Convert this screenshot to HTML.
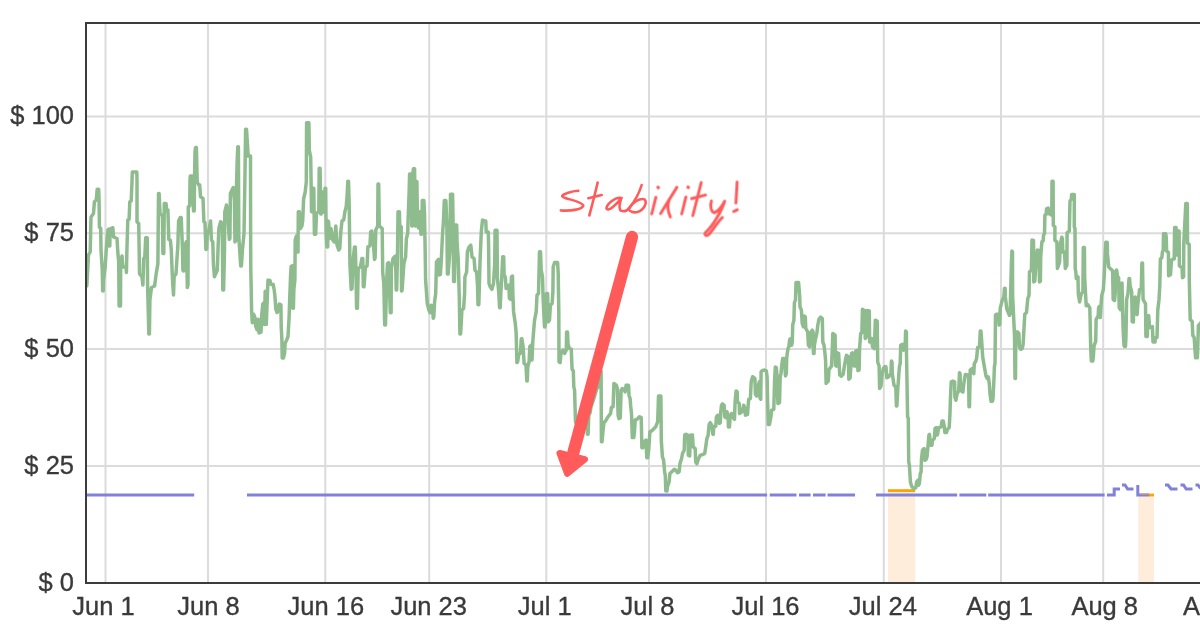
<!DOCTYPE html>
<html><head><meta charset="utf-8"><title>chart</title>
<style>
html,body{margin:0;padding:0;background:#fff;}
body{width:1200px;height:628px;overflow:hidden;font-family:"Liberation Sans",sans-serif;}
svg{display:block;}
text{font-family:"Liberation Sans",sans-serif;font-size:25.5px;fill:#3a3a3a;stroke:#3a3a3a;stroke-width:0.35px;}
</style></head><body>
<svg width="1200" height="628" viewBox="0 0 1200 628">
<rect x="0" y="0" width="1200" height="628" fill="#ffffff"/>
<g fill="#ffeddb">
<rect x="888" y="492" width="27.2" height="91"/>
<rect x="1138.3" y="496" width="15.7" height="87"/>
</g>
<g stroke="#dbdbdb" stroke-width="2" fill="none">
<line x1="105.5" y1="23" x2="105.5" y2="583"/>
<line x1="208" y1="23" x2="208" y2="583"/>
<line x1="325.3" y1="23" x2="325.3" y2="583"/>
<line x1="429.2" y1="23" x2="429.2" y2="583"/>
<line x1="546.3" y1="23" x2="546.3" y2="583"/>
<line x1="649" y1="23" x2="649" y2="583"/>
<line x1="766" y1="23" x2="766" y2="583"/>
<line x1="883.8" y1="23" x2="883.8" y2="583"/>
<line x1="1001" y1="23" x2="1001" y2="583"/>
<line x1="1103.2" y1="23" x2="1103.2" y2="583"/>
<line x1="86" y1="116.4" x2="1200" y2="116.4"/>
<line x1="86" y1="233.2" x2="1200" y2="233.2"/>
<line x1="86" y1="348.9" x2="1200" y2="348.9"/>
<line x1="86" y1="466" x2="1200" y2="466"/>
</g>
<g fill="none" stroke="#ffa300" stroke-width="2.8">
<path d="M888,490.6H915.2"/>
<path d="M1149,495H1154"/>
</g>
<polyline id="green" fill="none" stroke="#8fbc8f" stroke-width="3.5" stroke-linejoin="round" stroke-linecap="round" points="86.8,286.0 88.5,255.0 90.2,252.0 90.7,230.0 91.0,217.0 93.5,213.5 94.4,201.7 96.3,200.0 97.2,189.2 98.7,189.2 99.1,201.7 99.4,227.0 100.7,228.5 101.0,250.0 102.2,268.6 102.7,291.0 103.2,291.0 103.5,280.0 105.2,267.0 106.1,252.0 107.2,237.0 108.0,230.0 108.9,229.0 109.2,246.0 109.8,246.0 110.1,229.0 111.0,228.5 112.8,227.7 113.6,237.0 117.0,238.5 117.8,252.0 118.7,262.0 119.1,306.0 120.5,306.0 120.7,262.0 122.0,256.0 122.8,267.0 126.1,267.0 126.4,272.5 127.0,247.0 127.8,220.0 129.1,219.3 129.8,201.7 131.2,201.0 132.0,181.7 132.3,172.0 136.8,172.0 137.0,180.0 137.0,221.8 138.7,223.5 139.2,252.0 139.5,273.6 142.0,277.0 142.9,285.0 143.7,258.6 144.8,257.0 145.7,237.7 147.2,237.7 147.6,285.0 148.5,320.0 148.8,334.0 149.4,334.0 149.9,300.0 150.5,295.0 151.5,287.5 154.6,286.0 156.2,273.6 157.9,263.6 158.5,193.4 159.1,193.4 160.1,214.3 162.4,215.1 162.9,253.6 163.8,253.6 164.3,203.4 166.0,203.4 166.8,211.0 167.9,210.0 168.8,239.4 170.4,240.2 171.3,250.2 172.1,270.3 172.8,285.0 173.5,295.0 174.2,276.0 176.0,274.0 177.2,255.0 177.8,247.0 178.6,221.0 180.2,217.6 181.2,217.6 182.4,247.0 182.9,270.3 183.6,271.0 184.4,247.0 186.3,241.9 187.0,270.0 187.3,287.5 188.0,285.0 188.3,206.8 189.7,206.0 190.0,180.0 190.3,176.0 192.3,176.0 193.0,195.0 193.5,211.0 194.2,211.0 194.6,175.0 195.0,152.0 195.5,147.6 196.4,147.6 197.2,182.0 198.9,185.2 199.7,185.0 200.5,196.7 203.0,198.4 203.9,221.8 205.0,222.6 205.9,249.4 206.7,249.0 207.2,235.0 208.9,230.0 210.6,221.0 211.4,240.0 212.8,241.9 213.4,263.6 214.4,276.7 217.3,270.3 218.1,246.9 218.9,228.5 220.6,221.8 222.3,223.5 222.8,290.0 223.6,290.0 224.5,250.0 224.8,211.8 226.5,205.0 227.8,215.0 229.3,239.4 229.9,238.5 230.4,193.4 233.2,187.5 234.4,200.0 235.0,241.9 235.6,241.0 236.1,200.0 237.2,160.0 237.8,146.8 238.4,146.8 238.8,236.9 240.0,255.0 240.7,266.0 241.4,266.0 242.4,250.2 244.0,233.5 244.9,180.0 245.6,129.2 246.5,129.2 247.2,140.0 248.2,156.0 250.5,156.0 250.6,230.0 250.8,269.9 251.1,283.6 251.6,310.8 252.3,322.7 253.6,314.2 255.0,317.6 255.7,326.1 257.0,329.6 258.2,319.3 259.0,333.0 261.0,332.1 261.8,314.2 262.8,304.0 263.6,303.1 264.4,324.4 265.2,291.2 265.9,291.2 266.3,324.4 267.2,300.0 268.0,280.1 270.0,280.5 271.0,284.4 273.2,284.4 274.1,289.5 274.9,295.5 275.8,309.1 277.1,312.5 278.3,310.8 279.2,304.0 280.9,304.8 281.2,326.1 281.9,340.0 282.2,358.0 283.4,358.0 284.6,353.4 285.1,343.2 286.8,339.8 288.0,336.4 289.1,317.6 289.7,298.9 290.6,275.0 291.1,266.5 292.4,265.7 292.8,308.3 293.4,308.3 293.9,288.7 294.9,280.1 295.2,240.0 296.4,236.0 297.0,251.9 298.0,252.0 298.3,211.7 299.4,211.7 300.4,228.5 301.9,226.0 302.7,221.0 303.6,199.0 305.2,192.0 306.3,182.0 306.6,122.7 308.9,122.7 309.3,150.0 310.7,157.3 311.2,190.0 311.5,211.7 312.4,211.7 312.9,188.2 313.8,188.2 314.4,234.3 315.7,234.3 316.5,213.0 318.8,212.0 319.2,168.2 320.1,168.2 320.7,214.0 321.3,214.0 321.8,192.0 322.9,192.0 323.3,212.0 324.6,212.0 325.0,188.2 325.7,188.2 326.1,230.0 326.9,246.9 327.7,246.9 328.0,221.0 328.6,222.0 329.6,238.5 331.0,228.5 332.8,240.0 334.5,242.0 335.8,226.0 337.0,245.0 338.7,250.0 339.8,248.5 340.8,231.8 342.0,221.0 343.7,220.0 344.9,211.7 346.2,206.7 347.1,196.0 347.8,181.2 348.5,181.2 349.2,205.0 349.9,263.6 351.2,289.3 352.0,288.7 352.9,261.9 354.5,246.9 355.3,246.9 355.9,268.6 356.6,308.2 357.4,308.2 358.2,268.6 360.4,266.9 361.9,258.6 362.8,258.6 363.3,286.8 364.0,286.8 365.4,267.0 367.1,266.0 367.9,246.9 369.9,246.0 370.7,231.8 371.8,231.0 373.5,245.0 374.5,259.4 375.1,258.0 375.8,230.0 377.7,226.0 378.0,184.0 378.7,184.0 379.3,226.0 382.2,228.5 382.7,272.0 383.8,283.6 384.7,325.0 385.5,325.0 386.6,283.0 387.5,263.6 388.5,262.7 389.4,283.6 390.3,312.7 391.1,312.7 391.3,268.6 393.0,258.6 394.4,256.9 395.5,256.0 396.2,290.0 396.7,290.0 397.5,253.5 398.0,211.7 399.4,211.7 399.7,225.0 401.2,226.8 401.5,291.0 402.0,291.0 403.0,277.0 403.9,263.6 405.6,256.9 406.4,238.5 407.7,233.5 408.1,220.0 409.2,190.0 409.6,174.0 411.3,174.0 411.8,226.0 412.4,226.0 412.8,174.0 413.4,168.7 414.6,168.7 415.0,200.0 415.4,226.0 415.9,226.0 416.2,181.5 416.9,181.5 417.3,210.0 418.6,228.0 420.1,211.7 420.9,234.3 421.8,234.0 422.3,200.5 423.9,200.5 424.5,213.4 425.1,246.9 425.6,280.0 427.3,303.5 429.0,310.2 430.1,312.7 431.2,305.2 432.5,306.5 433.2,318.2 433.8,317.0 434.6,301.8 435.7,293.5 436.5,262.0 438.5,259.4 439.3,275.0 440.4,274.4 441.2,262.0 442.4,236.8 443.5,220.0 444.3,200.5 445.9,200.5 446.9,228.5 447.4,274.0 448.1,274.0 449.8,251.9 450.5,194.2 452.6,194.2 453.1,223.4 453.6,281.5 454.5,281.5 455.3,225.0 456.7,225.0 457.1,243.5 458.2,258.6 459.3,298.0 459.9,334.0 460.6,334.0 461.3,321.9 461.9,310.2 463.6,308.5 464.6,293.5 464.9,277.0 466.6,272.0 467.4,251.9 469.1,246.9 470.8,245.2 472.0,256.9 474.1,258.6 475.0,270.3 476.6,272.0 477.5,285.3 478.0,304.8 478.8,304.8 479.4,285.0 480.0,261.9 481.3,231.8 482.5,220.0 485.0,221.0 485.8,221.0 486.2,232.0 488.3,232.0 488.6,245.0 489.0,283.5 490.2,286.8 491.9,289.3 493.5,283.5 494.7,263.4 495.1,230.2 497.0,230.2 497.4,278.4 498.7,291.8 499.6,307.7 500.2,307.7 500.9,291.8 501.7,278.4 502.7,256.7 503.7,256.7 504.1,275.1 505.3,277.0 506.1,288.5 508.9,285.1 509.4,298.5 510.7,299.3 511.4,276.8 512.5,276.0 512.8,291.8 513.6,311.9 515.3,323.6 516.1,332.0 516.6,350.0 516.9,362.6 517.6,362.0 518.6,355.0 520.5,353.0 521.2,339.2 521.8,338.5 523.1,346.7 524.1,363.4 526.0,365.1 526.8,381.0 527.3,381.0 527.8,366.8 529.1,361.8 529.8,346.7 531.2,345.0 531.5,360.0 532.0,360.0 532.8,341.7 534.5,320.3 536.2,311.9 537.0,295.2 538.5,293.5 539.5,251.7 540.5,251.7 541.2,270.1 542.5,276.8 543.2,300.2 544.5,326.9 545.0,326.9 546.0,316.9 546.5,293.5 547.6,293.5 548.3,321.9 549.5,320.0 550.4,305.2 552.1,303.5 552.9,291.8 553.2,266.7 554.6,262.6 557.6,262.6 558.2,273.4 558.8,311.9 559.0,361.8 560.1,362.6 561.0,353.4 562.9,350.0 564.6,353.4 566.3,350.0 566.6,332.0 567.5,332.0 568.0,343.7 569.3,348.4 571.3,349.2 571.6,358.4 572.1,369.3 573.3,371.0 573.8,386.8 574.6,390.2 575.0,405.2 575.5,422.0 577.0,425.0 582.0,420.0 587.0,415.0 587.5,434.3 588.1,434.3 588.8,415.3 590.0,413.0 591.0,407.0 594.0,398.0 597.0,388.0 599.7,386.0 600.2,371.0 601.1,371.0 601.4,441.8 602.0,441.8 602.8,433.4 603.9,422.6 605.6,420.9 608.1,416.7 610.6,413.4 611.4,407.5 613.1,406.9 613.9,383.5 616.4,385.2 617.3,388.5 618.1,415.3 618.9,418.6 620.3,418.0 621.1,390.2 622.3,388.5 624.0,389.3 625.1,391.9 626.1,385.2 628.5,385.2 629.0,395.2 630.1,398.5 630.6,405.2 631.5,413.6 632.3,437.6 633.8,437.6 634.5,431.8 635.2,420.0 637.3,419.2 639.5,416.7 641.2,417.6 641.5,430.1 641.9,447.7 643.0,447.7 644.0,441.8 646.0,440.1 646.8,457.7 647.7,457.7 648.7,450.2 649.9,431.8 651.6,430.9 654.1,428.4 655.7,426.8 657.7,421.7 658.5,396.0 660.9,396.0 661.3,440.1 662.4,456.9 663.6,460.2 664.6,471.9 665.3,475.3 665.8,491.0 667.0,491.0 667.4,487.0 669.1,481.9 669.9,473.6 671.6,471.9 674.1,469.4 675.8,470.2 677.5,472.7 679.1,471.9 680.0,463.5 681.6,458.5 682.5,453.5 684.2,450.2 684.7,435.1 686.0,434.3 688.0,435.3 688.3,455.3 689.7,456.0 690.2,435.3 692.4,434.9 693.2,447.0 695.2,448.6 695.7,462.0 696.9,463.7 698.5,458.7 700.2,455.3 702.7,454.5 704.7,453.6 705.7,447.0 706.9,438.6 708.1,435.3 709.1,424.4 710.2,422.7 711.7,425.2 712.7,433.6 713.3,434.4 713.8,426.9 715.8,426.1 716.4,416.9 717.8,415.2 719.1,415.2 719.4,423.5 720.3,422.7 720.8,411.8 721.5,405.2 722.5,403.8 724.1,405.2 724.8,416.9 726.1,417.7 727.0,411.8 728.1,415.2 728.4,426.9 729.5,426.9 730.0,418.5 731.5,413.5 733.7,418.5 734.5,419.3 735.1,401.8 736.1,390.9 737.2,391.8 737.5,401.8 739.2,403.5 739.5,413.5 742.0,411.8 743.7,405.2 744.9,408.5 745.4,415.2 747.5,414.3 748.2,405.2 748.7,399.3 750.4,398.5 751.2,381.7 752.6,376.7 754.9,378.4 755.4,394.3 756.6,396.0 757.6,387.6 759.4,381.7 760.1,398.5 760.7,399.3 761.1,371.7 762.6,370.4 764.6,370.0 766.3,370.9 767.1,376.7 767.6,401.8 768.3,424.4 769.5,424.4 769.9,421.9 770.9,416.9 771.6,410.2 773.8,409.3 774.6,380.1 775.3,367.0 776.3,367.5 777.1,376.7 777.9,403.5 779.5,402.6 780.2,376.7 781.0,373.7 781.7,365.3 782.7,358.6 784.4,358.6 784.7,365.3 785.5,375.9 786.3,373.7 786.7,358.6 787.2,353.6 788.0,348.6 788.8,346.9 789.7,339.4 791.0,338.5 791.7,345.2 792.3,342.0 792.7,325.2 793.9,320.2 794.4,302.6 795.5,300.1 796.0,282.5 798.6,282.5 798.9,286.7 799.7,296.7 800.0,306.8 801.4,310.1 802.2,323.5 803.4,326.8 804.2,316.0 805.3,316.8 805.8,328.5 807.7,331.9 808.4,345.2 809.7,346.9 810.6,332.7 812.3,330.2 813.1,331.9 813.4,353.6 814.0,353.6 814.4,345.2 815.6,338.5 816.8,333.5 817.8,325.2 818.9,319.3 820.6,317.1 822.3,318.5 822.8,341.9 824.0,345.2 824.8,351.9 825.6,360.3 826.1,383.4 828.3,381.0 829.0,369.5 831.5,366.1 832.3,348.6 832.8,333.5 835.1,335.2 835.5,365.3 836.5,366.1 837.3,352.8 838.7,353.6 839.2,365.3 839.8,375.0 841.5,376.2 843.2,374.2 844.0,368.6 845.7,358.6 846.5,355.3 848.5,356.9 848.8,379.2 850.1,378.0 850.7,368.6 851.5,353.6 852.4,352.8 853.2,365.3 854.9,366.1 855.7,351.1 857.4,350.3 857.9,370.6 859.1,370.0 859.6,348.6 860.7,333.5 861.9,332.7 862.4,309.3 864.9,311.0 865.2,338.5 866.3,337.0 866.9,310.5 869.3,311.0 869.6,341.9 871.6,338.5 872.5,346.9 874.4,348.6 875.3,320.2 877.2,321.0 877.7,362.0 879.1,366.0 879.6,388.4 881.0,386.0 881.3,383.4 882.0,375.0 883.3,368.4 885.0,366.5 886.0,366.9 886.8,377.8 888.5,376.9 890.9,373.6 891.4,361.0 892.0,361.9 892.3,373.6 894.0,385.3 895.8,387.0 896.4,405.9 896.9,405.9 897.9,387.0 899.4,366.9 900.2,363.5 900.7,345.2 902.4,344.3 903.6,350.2 905.1,348.5 905.6,330.9 906.4,331.8 906.5,353.5 907.6,416.7 908.3,418.4 908.7,461.9 909.4,465.2 910.4,482.0 911.6,486.1 913.3,488.5 915.8,487.8 916.6,482.0 917.8,480.3 918.6,485.3 919.4,483.6 920.3,473.6 921.1,471.9 921.5,458.5 922.5,450.2 924.1,448.5 924.8,460.2 926.1,459.4 927.0,456.9 928.1,445.2 928.9,435.1 929.5,434.3 930.5,445.2 932.0,445.2 932.5,440.2 934.3,438.5 935.1,428.4 936.2,427.6 937.0,435.1 937.6,434.3 938.6,427.6 941.2,426.8 942.0,420.9 943.2,420.9 944.2,425.9 944.9,432.6 946.5,432.6 947.5,429.3 949.2,427.6 949.9,415.1 950.4,400.3 951.2,381.9 952.9,381.1 954.6,381.9 954.9,397.0 955.9,400.3 957.1,393.6 958.7,391.1 959.5,372.7 960.1,373.6 960.5,390.3 962.9,392.0 963.8,383.6 964.6,378.6 965.4,374.4 968.6,375.3 969.0,406.7 969.5,406.7 970.2,370.2 972.1,368.6 973.8,373.6 974.3,363.5 975.5,361.9 976.6,358.5 977.6,347.7 979.5,346.8 980.3,330.9 980.9,330.9 981.5,338.5 982.7,356.9 983.8,363.5 984.7,368.6 986.0,376.1 987.2,378.6 988.3,376.9 989.3,383.6 990.0,393.6 991.0,401.2 992.5,401.2 993.0,398.7 993.9,380.3 994.4,366.9 995.0,363.5 995.5,315.1 996.4,314.2 998.6,314.2 999.2,325.1 999.8,324.2 1000.2,308.4 1002.2,300.3 1003.8,296.9 1004.5,288.2 1005.1,288.2 1005.4,296.9 1006.7,308.6 1008.1,312.0 1009.4,315.3 1010.1,314.0 1011.4,263.5 1011.9,251.0 1012.5,251.5 1012.6,295.3 1014.5,335.1 1015.0,378.6 1015.5,378.6 1015.8,333.4 1017.3,331.8 1018.9,333.4 1019.4,346.8 1020.6,349.3 1022.3,348.5 1023.1,344.3 1024.0,328.4 1024.8,314.2 1026.5,312.5 1027.8,298.6 1029.0,295.3 1029.5,271.9 1031.4,270.2 1032.0,240.1 1033.5,240.5 1033.8,281.9 1034.8,281.1 1035.3,273.5 1037.3,250.1 1039.0,250.5 1039.5,281.9 1040.4,281.1 1040.7,256.8 1041.9,241.8 1043.2,240.9 1043.5,235.1 1044.5,233.6 1044.9,215.2 1046.2,214.3 1046.5,208.8 1048.2,208.1 1048.7,213.5 1051.8,215.2 1052.0,181.2 1053.1,181.2 1053.3,225.2 1054.9,226.9 1054.9,240.3 1056.9,241.9 1057.4,268.5 1058.6,265.2 1059.6,261.8 1060.2,245.1 1061.8,237.2 1062.4,238.6 1062.8,252.0 1064.6,252.0 1065.3,268.5 1066.9,265.2 1067.1,232.7 1067.9,231.9 1069.3,231.1 1070.0,201.0 1071.3,199.3 1071.6,194.6 1074.3,194.6 1074.3,226.9 1075.0,228.5 1075.2,268.5 1075.8,271.9 1076.3,278.5 1078.0,276.9 1078.3,293.6 1079.6,302.0 1081.3,293.6 1082.9,291.7 1083.3,247.4 1084.4,247.4 1084.7,277.8 1086.2,305.7 1087.8,304.7 1089.8,307.7 1090.1,319.6 1090.7,347.5 1091.3,361.0 1092.8,361.0 1093.3,357.4 1094.1,345.5 1095.7,341.5 1096.1,319.6 1098.2,315.6 1098.6,307.7 1099.2,306.7 1100.2,317.6 1101.7,295.7 1103.3,289.8 1104.1,277.8 1105.3,252.2 1105.8,242.2 1107.2,242.2 1107.5,253.9 1108.7,266.9 1110.7,268.9 1112.6,270.8 1113.2,299.7 1114.6,300.5 1115.2,293.7 1115.6,271.8 1116.6,270.0 1117.6,276.8 1118.6,277.8 1119.2,307.7 1120.6,309.7 1121.2,283.8 1122.0,283.0 1122.6,309.7 1123.2,331.5 1124.0,345.5 1124.6,346.5 1125.5,346.5 1126.0,335.5 1126.6,299.7 1128.0,293.7 1129.0,278.5 1129.6,278.5 1130.1,285.8 1131.7,292.0 1132.2,321.6 1133.4,322.0 1133.9,297.7 1135.3,297.0 1135.7,313.6 1137.1,314.6 1137.7,305.7 1139.5,289.8 1141.3,288.0 1141.9,263.0 1142.5,263.0 1143.1,299.7 1145.5,303.7 1145.9,336.5 1147.3,336.5 1148.0,316.6 1148.7,315.6 1149.6,327.6 1152.4,326.6 1153.0,342.0 1155.0,342.0 1155.4,337.5 1157.0,337.5 1157.8,309.7 1159.0,299.7 1159.8,285.8 1160.4,258.9 1161.8,257.9 1162.4,252.0 1163.2,250.5 1163.5,233.8 1165.8,233.8 1166.3,238.1 1166.6,251.1 1168.4,252.5 1168.6,275.8 1170.5,274.8 1171.5,259.9 1174.2,258.9 1174.6,227.6 1176.1,227.6 1176.4,255.0 1177.9,255.0 1178.1,231.1 1179.1,231.1 1179.4,265.9 1182.1,267.9 1182.5,277.8 1183.6,276.8 1183.8,243.2 1185.8,203.5 1187.3,203.5 1187.5,243.2 1189.2,244.2 1189.3,279.8 1189.7,297.7 1190.2,319.6 1192.2,321.6 1192.8,335.5 1194.2,337.5 1194.8,347.5 1195.6,357.8 1197.3,357.8 1197.6,353.4 1198.4,325.6 1200.5,323.0"/>
<g fill="none" stroke="#8181dc" stroke-width="3">
<path d="M87,495H194.2 M247,495H767.1 M769.7,495H796.5 M799,495H810.6 M813,495H825.6 M827.5,495H855 M876,495H957.2 M959.4,495H986.3 M988.2,495H1104.6 M1107,495H1114.2V489H1120 M1122,485H1125L1127.6,489H1133.5 M1137.8,485V495H1149.2 M1165,485H1168L1171,489H1177.5 M1180.5,485H1183.5L1186.2,489H1192.5 M1195.5,485H1198L1200.5,488.5"/>
</g>
<path d="M1140,494.1H1149" fill="none" stroke="#e09a40" stroke-width="1.4" opacity="0.75"/>
<path d="M86,584V23H1201 M85,583H1201" fill="none" stroke="#3c3c3c" stroke-width="2"/>
<defs><filter id="gs" x="0" y="0" width="1200" height="628" filterUnits="userSpaceOnUse"><feColorMatrix type="saturate" values="0"/></filter></defs>
<g filter="url(#gs)" style="will-change:transform">
<g text-anchor="end">
<text x="74" y="124.0">$ 100</text>
<text x="74" y="240.8">$ 75</text>
<text x="74" y="356.5">$ 50</text>
<text x="74" y="473.6">$ 25</text>
<text x="74" y="590.6">$ 0</text>
</g>
<g text-anchor="middle">
<text x="103.5" y="615">Jun 1</text>
<text x="208.5" y="615">Jun 8</text>
<text x="325.8" y="615">Jun 16</text>
<text x="428.7" y="615">Jun 23</text>
<text x="544.8" y="615">Jul 1</text>
<text x="647.5" y="615">Jul 8</text>
<text x="765.5" y="615">Jul 16</text>
<text x="882.8" y="615">Jul 24</text>
<text x="999.5" y="615">Aug 1</text>
<text x="1104.7" y="615">Aug 8</text>
<text x="1223.3" y="615">Aug 16</text>
</g>
</g>
<g stroke="#ff5b5b" fill="#ff5b5b" stroke-linecap="round" stroke-linejoin="round">
<line x1="632" y1="237" x2="573.5" y2="452" stroke-width="12.3"/>
<polygon points="559.7,453.2 584.8,459.3 567.3,473.6" stroke-width="6.5"/>
</g>
<g fill="none" stroke="#ff5b5b" stroke-linecap="round" stroke-linejoin="round">
<g transform="translate(555,175) scale(0.083333)" stroke-width="31">
<path d="M280,190 C200,195 100,225 86,252 C84,262 100,268 130,278 C200,300 325,325 340,365 C335,410 200,435 70,425"/>
<path d="M512,90 C480,230 440,380 412,485"/>
<path d="M400,278 L560,240"/>
<path d="M800,275 C720,255 615,360 618,405 C640,445 740,350 795,280 C780,330 755,400 790,428 C830,445 870,425 895,392"/>
<path d="M1040,120 C1010,220 945,330 890,398"/>
<path d="M890,398 C930,330 1020,270 1075,292 C1110,330 1070,420 990,445 C940,455 890,440 880,405"/>
</g>
<g transform="translate(645,175) scale(0.10352)" stroke-width="28">
<path d="M105,215 L65,375"/>
<path d="M126,120 L128,121" stroke-width="33"/>
<path d="M150,372 L308,118"/>
<path d="M230,248 C213,300 225,360 245,405"/>
<path d="M395,212 L355,375"/>
<path d="M416,118 L418,119" stroke-width="33"/>
<path d="M543,72 L462,392"/>
<path d="M450,228 L585,193"/>
<path d="M642,250 C625,300 640,360 670,365 C710,350 750,290 770,252 C740,350 650,500 585,555 C570,580 590,595 615,575 C660,530 700,450 748,410"/>
<path d="M890,68 L878,270"/>
<path d="M857,352 L892,335"/>
</g>
</g>
</svg>
</body></html>
